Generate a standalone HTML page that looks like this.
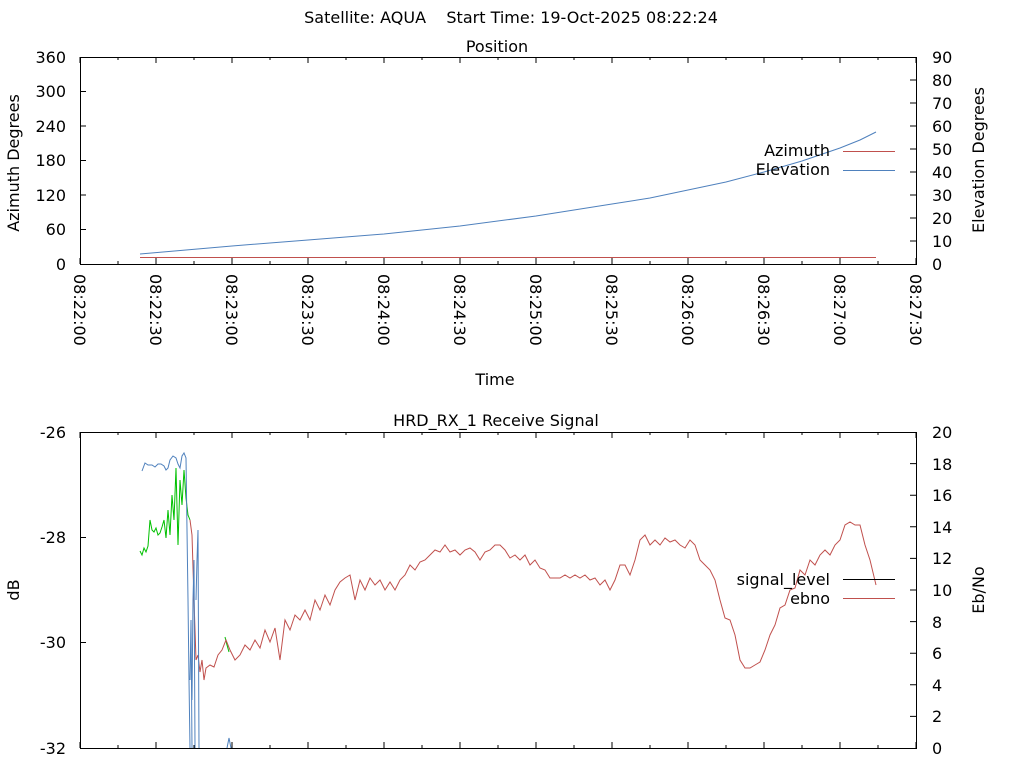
<!DOCTYPE html>
<html><head><style>body{margin:0;background:#fff}svg text{font-family:"DejaVu Sans",sans-serif;font-size:16px;fill:#000}</style></head><body>
<svg width="1024" height="768" viewBox="0 0 1024 768" xmlns="http://www.w3.org/2000/svg">
<rect width="1024" height="768" fill="#fff"/>
<text x="511" y="23" text-anchor="middle" xml:space="preserve">Satellite: AQUA    Start Time: 19-Oct-2025 08:22:24</text>
<text x="497" y="52" text-anchor="middle">Position</text>
<rect x="80.5" y="57.5" width="836" height="207" fill="none" stroke="#000"/>
<g stroke="#000">
<path d="M80 57v6M156 57v6M232 57v6M308 57v6M384 57v6M460 57v6M536 57v6M612 57v6M688 57v6M764 57v6M840 57v6M916 57v6M80 264v-6M156 264v-6M232 264v-6M308 264v-6M384 264v-6M460 264v-6M536 264v-6M612 264v-6M688 264v-6M764 264v-6M840 264v-6M916 264v-6M118 57v3M194 57v3M270 57v3M346 57v3M422 57v3M498 57v3M574 57v3M650 57v3M726 57v3M802 57v3M878 57v3M118 264v-3M194 264v-3M270 264v-3M346 264v-3M422 264v-3M498 264v-3M574 264v-3M650 264v-3M726 264v-3M802 264v-3M878 264v-3"/>
<path d="M80 91.5h6M80 126h6M80 160.5h6M80 195h6M80 229.5h6M916 80h-6M916 103h-6M916 126h-6M916 149h-6M916 172h-6M916 195h-6M916 218h-6M916 241h-6"/>
</g>
<g text-anchor="end">
<text x="66" y="63">360</text><text x="66" y="97">300</text><text x="66" y="132">240</text><text x="66" y="166">180</text><text x="66" y="201">120</text><text x="66" y="235">60</text><text x="66" y="270">0</text>
</g>
<g>
<text x="932" y="63">90</text><text x="932" y="86">80</text><text x="932" y="109">70</text><text x="932" y="132">60</text><text x="932" y="155">50</text><text x="932" y="178">40</text><text x="932" y="201">30</text><text x="932" y="224">20</text><text x="932" y="247">10</text><text x="932" y="270">0</text>
</g>
<text transform="translate(19,163) rotate(-90)" text-anchor="middle">Azimuth Degrees</text>
<text transform="translate(984,160) rotate(-90)" text-anchor="middle">Elevation Degrees</text>
<g>
<text transform="translate(74,274) rotate(90)">08:22:00</text>
<text transform="translate(150,274) rotate(90)">08:22:30</text>
<text transform="translate(226,274) rotate(90)">08:23:00</text>
<text transform="translate(302,274) rotate(90)">08:23:30</text>
<text transform="translate(378,274) rotate(90)">08:24:00</text>
<text transform="translate(454,274) rotate(90)">08:24:30</text>
<text transform="translate(530,274) rotate(90)">08:25:00</text>
<text transform="translate(606,274) rotate(90)">08:25:30</text>
<text transform="translate(682,274) rotate(90)">08:26:00</text>
<text transform="translate(758,274) rotate(90)">08:26:30</text>
<text transform="translate(834,274) rotate(90)">08:27:00</text>
<text transform="translate(910,274) rotate(90)">08:27:30</text>
</g>
<text x="495" y="385" text-anchor="middle">Time</text>
<path d="M140 257.5H876" stroke="#c0504d" fill="none"/>
<path d="M140 254L232 246L308 240L384 234L460 226L536 216L612 204L650 198L688 190L726 182L764 172L802 161L840 148L860 140L876 132" stroke="#4f81bd" fill="none"/>
<text x="830" y="156" text-anchor="end">Azimuth</text>
<text x="830" y="175" text-anchor="end">Elevation</text>
<path d="M843 151.5h52" stroke="#c0504d"/>
<path d="M843 170.5h52" stroke="#4f81bd"/>

<text x="496" y="426" text-anchor="middle">HRD_RX_1 Receive Signal</text>
<rect x="80.5" y="432.5" width="836" height="316" fill="none" stroke="#000"/>
<g stroke="#000">
<path d="M80 432v6M156 432v6M232 432v6M308 432v6M384 432v6M460 432v6M536 432v6M612 432v6M688 432v6M764 432v6M840 432v6M916 432v6M80 748v-6M156 748v-6M232 748v-6M308 748v-6M384 748v-6M460 748v-6M536 748v-6M612 748v-6M688 748v-6M764 748v-6M840 748v-6M916 748v-6M118 432v3M194 432v3M270 432v3M346 432v3M422 432v3M498 432v3M574 432v3M650 432v3M726 432v3M802 432v3M878 432v3M118 748v-3M194 748v-3M270 748v-3M346 748v-3M422 748v-3M498 748v-3M574 748v-3M650 748v-3M726 748v-3M802 748v-3M878 748v-3"/>
<path d="M80 537.5h6M80 642.5h6M916 463.6h-6M916 495.2h-6M916 526.8h-6M916 558.4h-6M916 590h-6M916 621.6h-6M916 653.2h-6M916 684.8h-6M916 716.4h-6"/>
</g>
<g text-anchor="end"><text x="66" y="438">-26</text><text x="66" y="543">-28</text><text x="66" y="648">-30</text><text x="66" y="754">-32</text></g>
<g><text x="932" y="438">20</text><text x="932" y="470">18</text><text x="932" y="501">16</text><text x="932" y="533">14</text><text x="932" y="564">12</text><text x="932" y="596">10</text><text x="932" y="628">8</text><text x="932" y="659">6</text><text x="932" y="691">4</text><text x="932" y="722">2</text><text x="932" y="754">0</text></g>
<text transform="translate(19,590) rotate(-90)" text-anchor="middle">dB</text>
<text transform="translate(984,590) rotate(-90)" text-anchor="middle">Eb/No</text>
<path d="M140 551L142 555L144 548L146 552L148 546L150 520L152 530L154 532L156 528L158 535L160 533L162 527L164 520L166 538L168 510L170 535L172 495L174 520L176 468L178 545L180 480L182 505L184 470L186 498L188 515L190 520" stroke="#00c000" fill="none"/>
<path d="M225 637L227 645L229 652" stroke="#00c000" fill="none"/>
<path d="M190 520L192 535L194 600L196 660L198 655L200 672L202 660L204 680L206 668L210 665L214 667L218 655L222 650L226 640L230 650L235 660L240 655L245 645L250 650L255 640L260 648L265 630L270 642L275 628L280 660L285 620L290 630L295 615L300 620L305 610L310 620L315 600L320 610L325 595L330 605L335 590L340 582L345 578L350 575L355 600L360 580L365 590L370 578L375 585L380 580L385 590L390 582L395 590L400 580L405 575L410 565L415 570L420 562L425 560L430 555L435 550L440 552L445 545L450 552L455 550L460 555L465 550L470 548L475 552L480 560L485 552L490 550L495 545L500 545L505 550L510 558L515 555L520 560L525 555L530 565L535 560L540 568L545 570L550 578L555 578L560 578L565 575L570 578L575 575L580 578L585 575L590 580L595 578L600 585L605 580L610 590L615 580L620 565L625 565L630 575L635 560L640 540L645 535L650 545L655 540L660 545L665 538L670 542L675 540L680 545L685 548L690 540L695 545L700 560L705 565L710 570L715 580L720 600L725 618L730 620L735 635L740 660L745 668L750 668L755 665L760 662L765 650L770 635L775 625L780 608L785 605L790 590L795 588L800 570L805 575L810 560L815 565L820 555L825 550L830 555L835 545L840 540L845 525L850 522L855 525L860 525L865 545L870 560L876 585" stroke="#c0504d" fill="none"/>
<path d="M142 471L145 463L148 465L152 465L155 467L158 464L161 464L164 466L166 470L168 468L170 460L173 456L176 458L178 464L180 468L182 456L184 453L186 458L187 530L188 600L189 680L190 748M190 680L191 620L192 748M192 700L193 600L194 560L195 748M196 600L197 560L198 530L199 748M227 748L229 738L231 748" stroke="#4f81bd" fill="none"/>
<text x="830" y="585" text-anchor="end">signal_level</text>
<text x="830" y="604" text-anchor="end">ebno</text>
<path d="M843 579.5h52" stroke="#000"/>
<path d="M843 598.5h52" stroke="#c0504d"/>
</svg>
</body></html>
